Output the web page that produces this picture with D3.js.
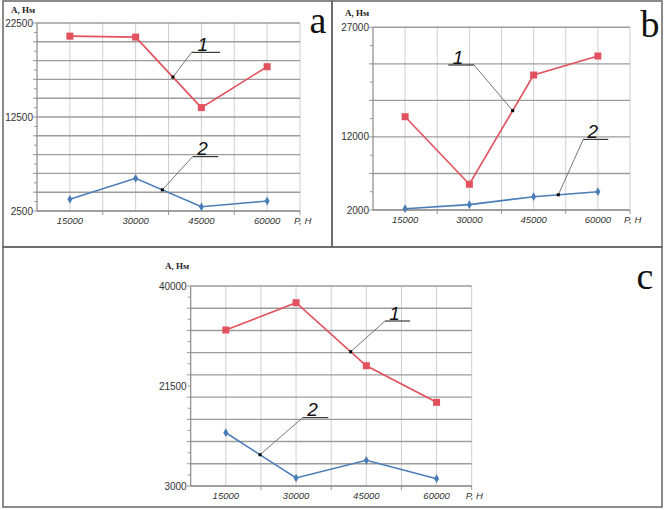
<!DOCTYPE html>
<html><head><meta charset="utf-8">
<script src="https://cdn.jsdelivr.net/npm/d3@7"></script>
<style>
body{margin:0;background:#fff;}
svg{display:block;}
</style></head>
<body>
<svg id="chart" width="665" height="510"></svg>
<script>
// ---------- data ----------
const categories = [15000, 30000, 45000, 60000];
const xTickLabels = ["15000", "30000", "45000", "60000"];

const seriesA1 = [21100, 21000, 13500, 17850];
const seriesA2 = [3750, 5980, 2950, 3560];
const yTicksA = [2500, 12500, 22500];

const seriesB1 = [14770, 5520, 20470, 23070];
const seriesB2 = [2180, 2730, 3820, 4500];
const yTicksB = [2000, 12000, 27000];

const seriesC1 = [31860, 36910, 25250, 18480];
const seriesC2 = [12860, 4480, 7750, 4350];
const yTicksC = [3000, 21500, 40000];

// annotations: [dotX, elbowX, elbowY, endX]
const annA1 = [38500, 42790, 19380, 49250];
const annA2 = [36090, 43020, 8280, 48860];
const annB1 = [40110, 31080, 21840, 25080];
const annB2 = [50760, 56600, 11670, 62430];
const annC1 = [41660, 48990, 33520, 54330];
const annC2 = [22300, 31420, 15640, 36880];

// ---------- drawing ----------
const svg = d3.select("#chart");
const RED = "#e2515d", BLUE = "#4a7db8";

// panel frames
svg.append("rect").attr("x",3).attr("y",1).attr("width",329).attr("height",246)
  .attr("fill","none").attr("stroke","#666").attr("stroke-width",1.5);
svg.append("rect").attr("x",332).attr("y",1).attr("width",330).attr("height",246)
  .attr("fill","none").attr("stroke","#666").attr("stroke-width",1.5);
svg.append("rect").attr("x",3).attr("y",247).attr("width",659).attr("height",260)
  .attr("fill","none").attr("stroke","#666").attr("stroke-width",1.5);

function interp(series, xv){
  for(let i=0;i<categories.length-1;i++){
    if(xv>=categories[i] && xv<=categories[i+1]){
      const t=(xv-categories[i])/(categories[i+1]-categories[i]);
      return series[i]+t*(series[i+1]-series[i]);
    }
  }
  return series[series.length-1];
}

function drawPanel(p){
  const g = svg.append("g");
  const x = d3.scaleLinear().domain([7500, 67500]).range([p.x0, p.x1]);
  const y = d3.scaleLinear().domain([p.yTicks[0], p.yTicks[p.yTicks.length-1]]).range([p.y1, p.y0]);

  // vertical grid
  const vg = d3.range(15000, 67501, 7500);
  g.selectAll(".vg").data(vg).enter().append("line")
    .attr("x1",d=>x(d)).attr("x2",d=>x(d)).attr("y1",p.y0).attr("y2",p.y1)
    .attr("stroke","#cfcfcf").attr("stroke-width",1);
  // horizontal grid
  const hg = d3.range(0, p.nGrid+1).map(i => y.domain()[0] + i*(y.domain()[1]-y.domain()[0])/p.nGrid);
  g.selectAll(".hg").data(hg).enter().append("line")
    .attr("x1",p.x0).attr("x2",p.x1).attr("y1",d=>y(d)).attr("y2",d=>y(d))
    .attr("stroke","#9c9c9c").attr("stroke-width",1.4);
  // minor ticks on y axis
  const mt = d3.range(0, p.nGrid).map(i => y.domain()[0] + (i+0.5)*(y.domain()[1]-y.domain()[0])/p.nGrid);
  g.selectAll(".mt").data(mt).enter().append("line")
    .attr("x1",p.x0-3).attr("x2",p.x0).attr("y1",d=>y(d)).attr("y2",d=>y(d))
    .attr("stroke","#999").attr("stroke-width",1);
  g.selectAll(".mj").data(hg).enter().append("line")
    .attr("x1",p.x0-4).attr("x2",p.x0).attr("y1",d=>y(d)).attr("y2",d=>y(d))
    .attr("stroke","#999").attr("stroke-width",1);
  // x ticks at band edges
  g.selectAll(".xt").data([22500,37500,52500,67500]).enter().append("line")
    .attr("x1",d=>x(d)).attr("x2",d=>x(d)).attr("y1",p.y1).attr("y2",p.y1+4)
    .attr("stroke","#999").attr("stroke-width",1);
  // axes lines
  g.append("line").attr("x1",p.x0).attr("x2",p.x0).attr("y1",p.y0).attr("y2",p.y1)
    .attr("stroke","#8a8a8a").attr("stroke-width",1.2);
  g.append("line").attr("x1",p.x0).attr("x2",p.x1).attr("y1",p.y1).attr("y2",p.y1)
    .attr("stroke","#8a8a8a").attr("stroke-width",1.2);

  // y tick labels
  g.selectAll(".yl").data(p.yTicks).enter().append("text")
    .attr("x",p.x0-4).attr("y",d=>y(d)+3.5).attr("text-anchor","end")
    .attr("font-family","Liberation Sans, Arial, sans-serif").attr("font-size",10).attr("fill","#333")
    .text(d=>d);
  // x tick labels
  g.selectAll(".xl").data(categories).enter().append("text")
    .attr("x",d=>x(d)).attr("y",p.y1+13).attr("text-anchor","middle")
    .attr("font-family","Liberation Sans, Arial, sans-serif").attr("font-size",9.5)
    .attr("font-style","italic").attr("fill","#333")
    .text((d,i)=>xTickLabels[i]);
  g.append("text").attr("x",p.x1-6).attr("y",p.y1+13)
    .attr("font-family","Liberation Sans, Arial, sans-serif").attr("font-size",9.5)
    .attr("font-style","italic").attr("fill","#333").text("P, H");
  // axis title
  g.append("text").attr("x",p.titleX).attr("y",p.titleY)
    .attr("font-family","Liberation Serif, Times New Roman, serif").attr("font-size",9)
    .attr("font-weight","bold").attr("fill","#222").text("A, Нм");
  // panel letter
  g.append("text").attr("x",p.letterX).attr("y",p.letterY).attr("text-anchor","middle")
    .attr("font-family","Liberation Serif, Times New Roman, serif").attr("font-size",38)
    .attr("fill","#111").text(p.letter);

  const line = d3.line().x((d,i)=>x(categories[i])).y(d=>y(d));
  // series 1 red
  g.append("path").datum(p.s1).attr("d",line).attr("fill","none")
    .attr("stroke",RED).attr("stroke-width",1.6);
  g.selectAll(".m1").data(p.s1).enter().append("rect")
    .attr("x",(d,i)=>x(categories[i])-3.5).attr("y",d=>y(d)-3.5)
    .attr("width",7).attr("height",7).attr("fill",RED);
  // series 2 blue
  g.append("path").datum(p.s2).attr("d",line).attr("fill","none")
    .attr("stroke",BLUE).attr("stroke-width",1.6);
  g.selectAll(".m2").data(p.s2).enter().append("path")
    .attr("d",d3.symbol().type(d3.symbolDiamond).size(22))
    .attr("transform",(d,i)=>`translate(${x(categories[i])},${y(d)})`)
    .attr("fill",BLUE);

  // annotations
  [[p.ann1, p.s1, "1"],[p.ann2, p.s2, "2"]].forEach(([a, s, lbl])=>{
    const dx = x(a[0]), dy = y(interp(s, a[0]));
    const ex = x(a[1]), ey = y(a[2]), endx = x(a[3]);
    g.append("line").attr("x1",dx).attr("y1",dy).attr("x2",ex).attr("y2",ey)
      .attr("stroke","#666").attr("stroke-width",0.9);
    g.append("line").attr("x1",ex).attr("y1",ey).attr("x2",endx).attr("y2",ey)
      .attr("stroke","#111").attr("stroke-width",1);
    g.append("rect").attr("x",dx-1.5).attr("y",dy-1.5).attr("width",3).attr("height",3).attr("fill","#000");
    g.append("text").attr("x",(ex+endx)/2-3).attr("y",ey-1.5).attr("text-anchor","middle")
      .attr("font-family","Liberation Sans, Arial, sans-serif").attr("font-size",19)
      .attr("font-style","italic").attr("fill","#111").text(lbl);
  });
}

drawPanel({x0:37, x1:300, y0:23, y1:211, yTicks:yTicksA, nGrid:10, s1:seriesA1, s2:seriesA2,
  ann1:annA1, ann2:annA2, titleX:11, titleY:13, letter:"a", letterX:318, letterY:33});
drawPanel({x0:373, x1:630, y0:27.3, y1:210, yTicks:yTicksB, nGrid:5, s1:seriesB1, s2:seriesB2,
  ann1:annB1, ann2:annB2, titleX:345, titleY:16, letter:"b", letterX:650, letterY:37});
drawPanel({x0:190.7, x1:471.7, y0:286, y1:486, yTicks:yTicksC, nGrid:9, s1:seriesC1, s2:seriesC2,
  ann1:annC1, ann2:annC2, titleX:165, titleY:269, letter:"c", letterX:645, letterY:289});
</script>
</body></html>
